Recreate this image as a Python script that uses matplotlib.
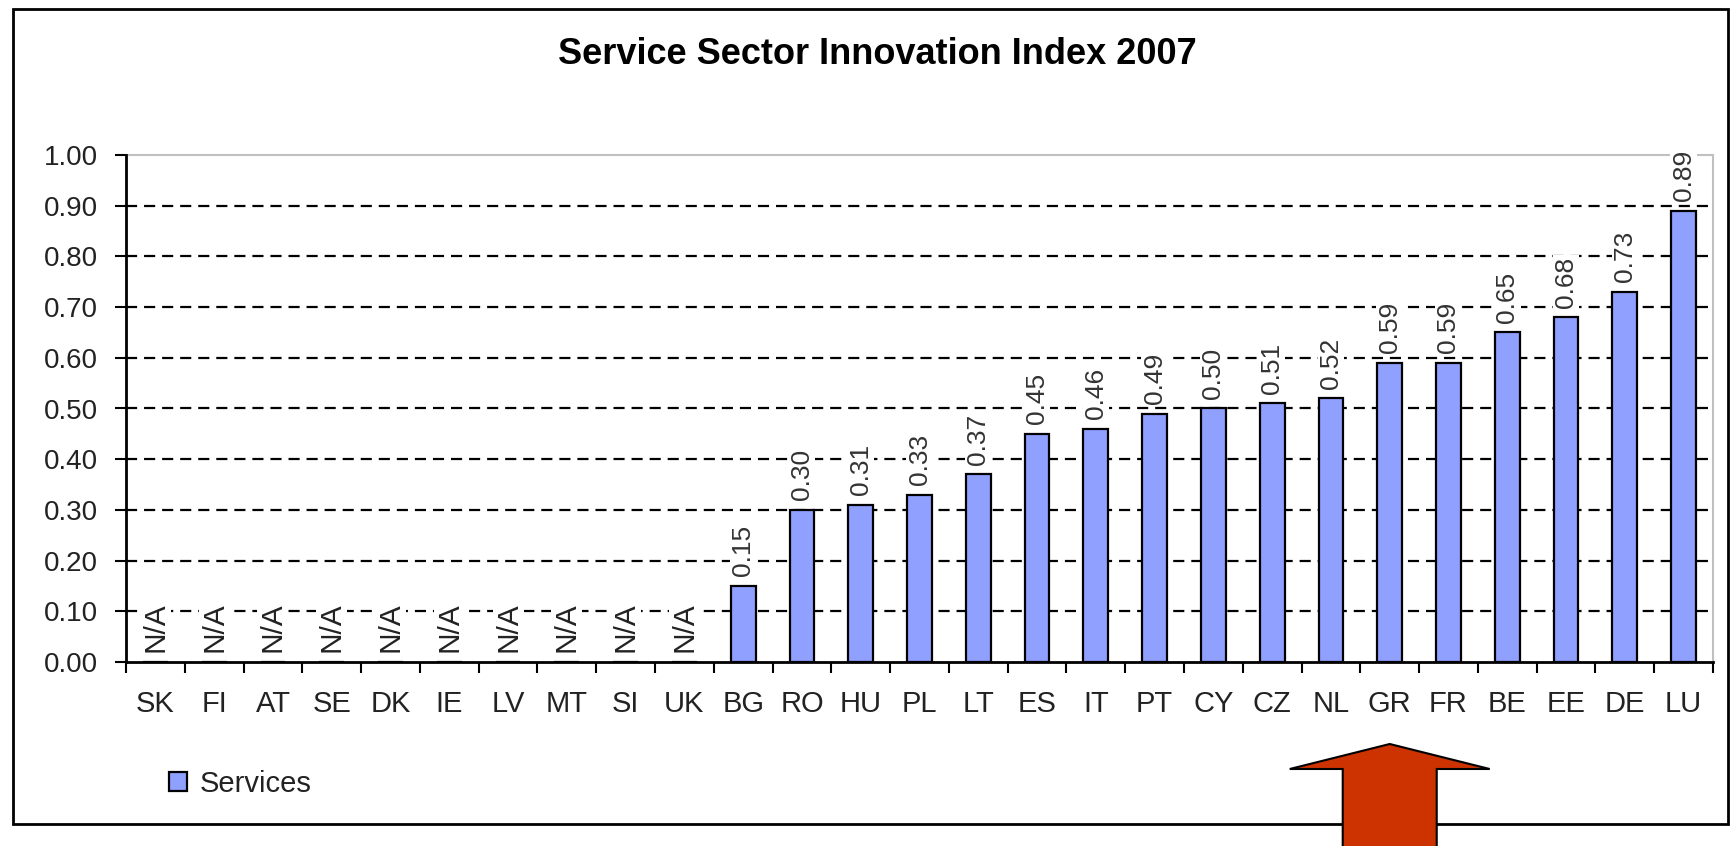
import matplotlib
matplotlib.use("Agg")
import matplotlib.pyplot as plt
from matplotlib.patches import Polygon, Rectangle
from matplotlib.transforms import blended_transform_factory

plt.rcParams['font.family'] = ['Liberation Sans', 'DejaVu Sans']
plt.rcParams['lines.scale_dashes'] = False

# Countries ordered by index value; None marks a country without data
countries = ["SK", "FI", "AT", "SE", "DK", "IE", "LV", "MT", "SI", "UK",
             "BG", "RO", "HU", "PL", "LT", "ES", "IT", "PT", "CY", "CZ",
             "NL", "GR", "FR", "BE", "EE", "DE", "LU"]
services = [None, None, None, None, None, None, None, None, None, None,
            0.15, 0.30, 0.31, 0.33, 0.37, 0.45, 0.46, 0.49, 0.50, 0.51,
            0.52, 0.59, 0.59, 0.65, 0.68, 0.73, 0.89]
y_ticks = [0.0, 0.1, 0.2, 0.3, 0.4, 0.5, 0.6, 0.7, 0.8, 0.9, 1.0]
highlight = "GR"

W, H = 1731, 846
fig = plt.figure(figsize=(W / 100, H / 100), dpi=100)

# Plot area in pixel terms
left, right, top, bottom = 126, 1713, 155, 662
ax = fig.add_axes([left / W, 1 - bottom / H, (right - left) / W, (bottom - top) / H])

x = list(range(len(countries)))
heights = [v if v is not None else 0 for v in services]
bar_color = "#90A0FF"

# Grid lines drawn first so the bars and labels sit on top
for t in y_ticks[1:-1]:
    ax.axhline(t, color="black", lw=1.6, linestyle=(0, (8, 5)), zorder=1)

bars = ax.bar(x, heights, width=0.42, color=bar_color, edgecolor="black",
              linewidth=1.6, zorder=3, label="Services")

for xi, v in zip(x, services):
    if v is None:
        ax.annotate("N/A", (xi, 0), xytext=(0, 7), textcoords="offset points",
                    rotation=90, ha="center", va="bottom", fontsize=21.5,
                    color="#222222", zorder=4,
                    bbox=dict(boxstyle="square,pad=0.05", fc="white", ec="none"))
    else:
        ax.annotate(f"{v:.2f}", (xi, v), xytext=(0, 7), textcoords="offset points",
                    rotation=90, ha="center", va="bottom", fontsize=19,
                    color="#333333", zorder=4,
                    bbox=dict(boxstyle="square,pad=0.05", fc="white", ec="none"))

ax.set_xlim(-0.5, len(countries) - 0.5)
ax.set_ylim(0, 1.0)
ax.set_yticks(y_ticks)
ax.set_yticklabels([f"{t:.2f}" for t in y_ticks])

# Category boundaries carry the tick marks, centres carry the names
ax.set_xticks([i - 0.5 for i in range(len(countries) + 1)])
ax.set_xticklabels([])
ax.set_xticks(x, minor=True)
ax.set_xticklabels(countries, minor=True)
ax.tick_params(axis="x", which="major", length=8, width=1.5, direction="out")
ax.tick_params(axis="x", which="minor", length=0, pad=20, labelsize=21,
               labelcolor="#222222")
ax.tick_params(axis="y", length=8, width=1.5, direction="out", pad=12,
               labelsize=20, labelcolor="#222222")

for side in ("left", "bottom"):
    ax.spines[side].set_color("black")
    ax.spines[side].set_linewidth(2)
for side in ("top", "right"):
    ax.spines[side].set_color("#C0C0C0")
    ax.spines[side].set_linewidth(1.5)
ax.spines["top"].set_zorder(0.5)

# Title
fig.text(877 / W, 1 - 54 / H, "Service Sector Innovation Index 2007",
         ha="center", va="center", fontsize=26, fontweight="bold")

# Legend
fig.legend(handles=[bars], labels=["Services"], loc="center left",
           bbox_to_anchor=(169 / W, 1 - 784 / H), frameon=False,
           borderpad=0, borderaxespad=0,
           fontsize=21, handlelength=0.62, handleheight=0.62,
           handletextpad=0.42, labelcolor="#222222")

# Outer chart border
fig.add_artist(Rectangle((13 / W, 1 - 824 / H), (1728 - 13) / W, (824 - 9) / H,
                         transform=fig.transFigure, fill=False,
                         edgecolor="black", linewidth=2, zorder=5))

# Pointer arrow under the highlighted country
gi = countries.index(highlight)
tr = blended_transform_factory(ax.transData, fig.transFigure)
span = (right - left) / len(countries)  # pixels per category
head_half = 100 / span
shaft_half = 47 / span
tip_y, base_y, end_y = 1 - 744 / H, 1 - 769 / H, -0.02
arrow = Polygon([(gi, tip_y), (gi + head_half, base_y), (gi + shaft_half, base_y),
                 (gi + shaft_half, end_y), (gi - shaft_half, end_y),
                 (gi - shaft_half, base_y), (gi - head_half, base_y)],
                closed=True, transform=tr, facecolor="#CC3300",
                edgecolor="black", linewidth=1.5, zorder=10, clip_on=False)
fig.add_artist(arrow)

fig.savefig("out.png", dpi=100, facecolor="white")
